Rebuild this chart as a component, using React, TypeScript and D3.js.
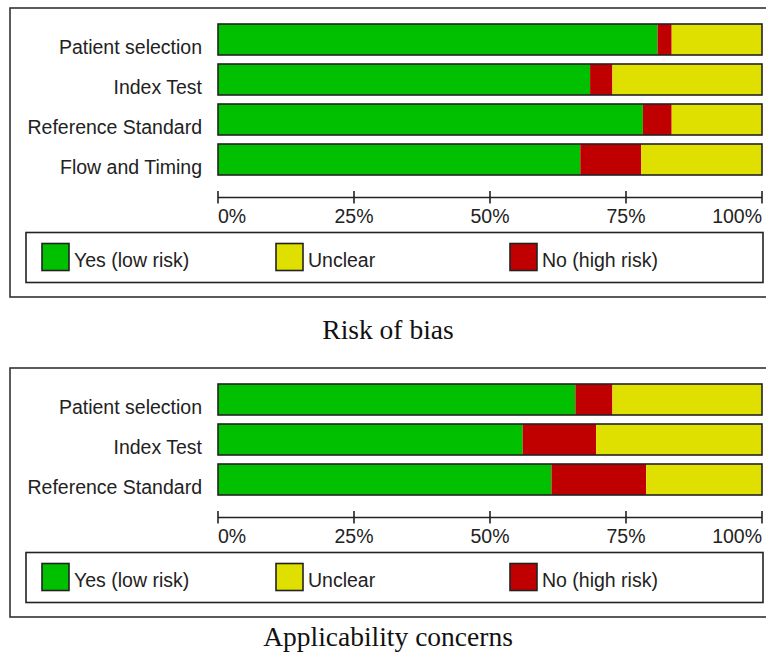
import React from "react";
import * as d3 from "d3";

const riskCategories = ["Patient selection", "Index Test", "Reference Standard", "Flow and Timing"];
const riskYes = [80.8, 68.4, 78.1, 66.6];
const riskNo = [2.6, 4.1, 5.3, 11.2];
const riskUnclear = [16.6, 27.5, 16.6, 22.2];

const applCategories = ["Patient selection", "Index Test", "Reference Standard"];
const applYes = [65.7, 56.0, 61.3];
const applNo = [6.8, 13.5, 17.4];
const applUnclear = [27.5, 30.5, 21.3];

const tickValues = [0, 25, 50, 75, 100];
const tickLabels = ["0%", "25%", "50%", "75%", "100%"];
const seriesKeys = ["yes", "no", "unclear"];
const legendKeys = ["yes", "unclear", "no"];
const legendLabels: Record<string, string> = { yes: "Yes (low risk)", unclear: "Unclear", no: "No (high risk)" };
const colors: Record<string, string> = { yes: "#00C000", no: "#C00000", unclear: "#E0E000" };

const W = 766;
const H = 652;
const SANS = "'Liberation Sans', Arial, sans-serif";
const SERIF = "'Liberation Serif', 'Times New Roman', serif";
const TEXT = "#222";

const x = d3.scaleLinear().domain([0, 100]).range([218, 762]);

type PanelProps = {
  cats: string[];
  yes: number[];
  no: number[];
  unclear: number[];
  boxTop: number;
  boxBottom: number;
  title: string;
  titleY: number;
};

function Panel({ cats, yes, no, unclear, boxTop, boxBottom, title, titleY }: PanelProps) {
  const rows = cats.map((c, i) => ({ cat: c, yes: yes[i], no: no[i], unclear: unclear[i] }));
  const stack = d3.stack<any>().keys(seriesKeys)(rows);
  const firstTop = boxTop + 16;
  const y = d3
    .scaleBand()
    .domain(cats)
    .range([firstTop, firstTop + cats.length * 40 - 9])
    .paddingInner(9 / 40)
    .paddingOuter(0);
  const lastBottom = (y(cats[cats.length - 1]) as number) + y.bandwidth();
  const axisY = lastBottom + 22.5;
  const legTop = axisY + 35;
  const legH = 50;
  const legendX: Record<string, number> = { yes: 42, unclear: 276, no: 510 };

  return (
    <g>
      <rect x={10} y={boxTop} width={800} height={boxBottom - boxTop} fill="white" stroke="#333" strokeWidth={1.6} />
      {cats.map((c) => (
        <text
          key={c}
          x={202}
          y={(y(c) as number) + y.bandwidth() - 1}
          textAnchor="end"
          fontFamily={SANS}
          fontSize={19.5}
          fill={TEXT}
        >
          {c}
        </text>
      ))}
      {stack.map((s) =>
        s.map((d, i) => (
          <rect
            key={s.key + i}
            x={x(d[0])}
            y={y(cats[i]) as number}
            width={x(d[1]) - x(d[0])}
            height={y.bandwidth()}
            fill={colors[s.key]}
          />
        ))
      )}
      {cats.map((c) => (
        <rect
          key={"o" + c}
          x={x(0)}
          y={y(c) as number}
          width={x(100) - x(0)}
          height={y.bandwidth()}
          fill="none"
          stroke="#222"
          strokeWidth={1.6}
        />
      ))}
      <line x1={x(0)} x2={x(100)} y1={axisY} y2={axisY} stroke="#222" strokeWidth={1.6} />
      {tickValues.map((t, i) => (
        <g key={t}>
          <line x1={x(t)} x2={x(t)} y1={axisY - 6.5} y2={axisY + 6} stroke="#222" strokeWidth={1.6} />
          <text
            x={x(t)}
            y={axisY + 25}
            textAnchor={i === 0 ? "start" : i === tickValues.length - 1 ? "end" : "middle"}
            fontFamily={SANS}
            fontSize={19.5}
            fill={TEXT}
          >
            {tickLabels[i]}
          </text>
        </g>
      ))}
      <rect x={26} y={legTop} width={737} height={legH} fill="white" stroke="#222" strokeWidth={1.6} />
      {legendKeys.map((k) => (
        <g key={k}>
          <rect x={legendX[k]} y={legTop + 11} width={27} height={27} fill={colors[k]} stroke="#222" strokeWidth={1.6} />
          <text x={legendX[k] + 32} y={legTop + 34} fontFamily={SANS} fontSize={19.5} fill={TEXT}>
            {legendLabels[k]}
          </text>
        </g>
      ))}
      <text x={388} y={titleY} textAnchor="middle" fontFamily={SERIF} fontSize={27.5} fill="#111">
        {title}
      </text>
    </g>
  );
}

export default function App() {
  return (
    <svg
      width={W}
      height={H}
      viewBox={`0 0 ${W} ${H}`}
      style={{ position: "absolute", left: 0, top: 0, background: "white" }}
    >
      <rect x={0} y={0} width={W} height={H} fill="white" />
      <Panel
        cats={riskCategories}
        yes={riskYes}
        no={riskNo}
        unclear={riskUnclear}
        boxTop={8}
        boxBottom={297}
        title="Risk of bias"
        titleY={339}
      />
      <Panel
        cats={applCategories}
        yes={applYes}
        no={applNo}
        unclear={applUnclear}
        boxTop={368}
        boxBottom={617}
        title="Applicability concerns"
        titleY={646}
      />
    </svg>
  );
}
